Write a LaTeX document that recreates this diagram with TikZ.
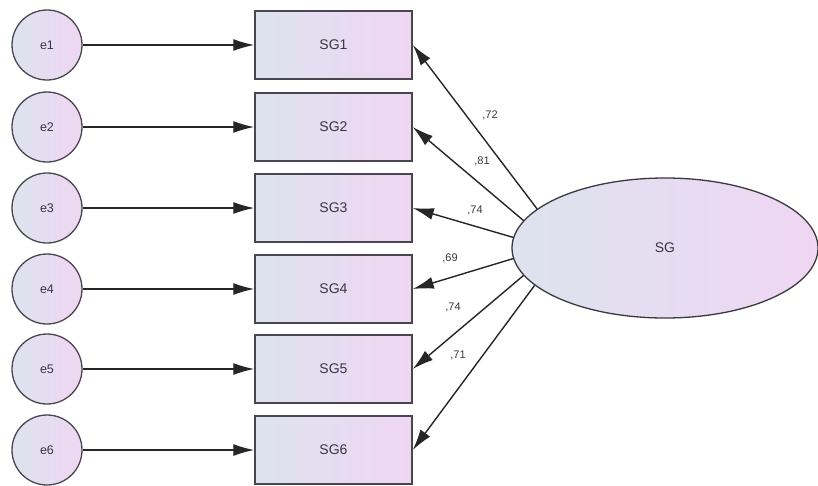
\documentclass[tikz,border=0pt]{standalone}
\usepackage{fontspec}
\setmainfont{Liberation Sans}
\usetikzlibrary{arrows.meta,shapes.geometric}
\definecolor{lblue}{HTML}{DDE3EE}
\definecolor{lpink}{HTML}{EFD6F3}
\definecolor{edgec}{HTML}{4A4650}
\definecolor{txtc}{HTML}{3A3640}
\tikzset{
  errc/.style={circle,draw=edgec,line width=1.3pt,minimum size=70pt,inner sep=0pt,left color=lblue,right color=lpink,font=\fontsize{12.5}{14}\selectfont,text=txtc},
  obsbox/.style={rectangle,draw=edgec,line width=1.5pt,minimum width=157pt,minimum height=68pt,inner sep=0pt,left color=lblue,right color=lpink,font=\fontsize{14}{16}\selectfont,text=txtc},
  latent/.style={ellipse,draw=edgec!80!black,line width=1.3pt,minimum width=306pt,minimum height=140pt,inner sep=0pt,left color=lblue,right color=lpink,font=\fontsize{14}{16}\selectfont,text=txtc},
  conn/.style={line width=1.4pt,draw=black!85,-{Latex[length=21pt,width=12pt]}},
  lbl/.style={font=\fontsize{11}{13}\selectfont,text=txtc,inner sep=0pt}
}
\begin{document}
\begin{tikzpicture}[x=1pt,y=-1pt]
\useasboundingbox (0,0) rectangle (818,485);
\foreach \i/\y in {1/45,2/127,3/208,4/289,5/369,6/450}{
  \node[errc] (e\i) at (47,\y) {e\i};
  \node[obsbox] (sg\i) at (333.5,\y) {SG\i};
  \draw[conn] (e\i) -- (sg\i);
}
\node[latent] (SG) at (665,248) {SG};
\draw[conn] (SG.163) -- (sg1.east);
\draw[conn] (SG.169) -- (sg2.east);
\draw[conn] (SG.176) -- (sg3.east);
\draw[conn] (SG.184) -- (sg4.east);
\draw[conn] (SG.191) -- (sg5.east);
\draw[conn] (SG.196) -- (sg6.east);
\node[lbl] (l1) at (490,115) {,72};
\node[lbl] (l2) at (482,161) {,81};
\node[lbl] (l3) at (475,210) {,74};
\node[lbl] (l4) at (450,258) {,69};
\node[lbl] (l5) at (453,307) {,74};
\node[lbl] (l6) at (458,355) {,71};
\end{tikzpicture}
\end{document}
